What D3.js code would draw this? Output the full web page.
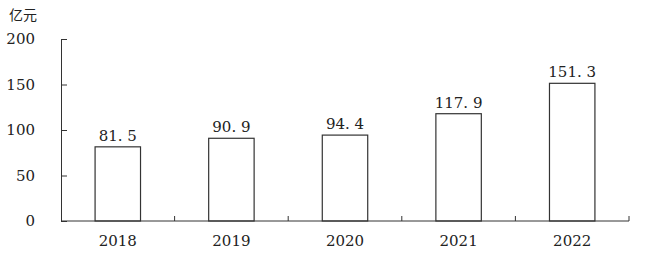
<!DOCTYPE html>
<html>
<head>
<meta charset="utf-8">
<script src="https://cdn.jsdelivr.net/npm/d3@7"></script>
<style>
  body { margin: 0; background: #fff; }
  svg text { fill: #222; }
</style>
</head>
<body>
<div id="chart"></div>
<script>
const years = ["2018", "2019", "2020", "2021", "2022"];
const values = [81.5, 90.9, 94.4, 117.9, 151.3];
const yTicks = [0, 50, 100, 150, 200];
const unit = "亿元";

const width = 661, height = 256;
const margin = {left: 61, right: 629, top: 39, bottom: 221};
const serif = "'DejaVu Serif', serif";

let svg = d3.select("#chart").append("svg")
  .attr("width", width)
  .attr("height", height);

// Scales
let x = d3.scaleBand()
  .domain(years)
  .range([margin.left, margin.right])
  .paddingInner(0.6)
  .paddingOuter(0.3);

let y = d3.scaleLinear()
  .domain([0, 200])
  .range([margin.bottom, margin.top]);

// Y axis, ticks point inward
let yAxis = svg.append("g")
  .attr("transform", "translate(" + margin.left + ",0)")
  .call(d3.axisLeft(y).tickValues(yTicks).tickSizeInner(-6).tickSizeOuter(0).tickPadding(26));
yAxis.select(".domain").attr("stroke", "#333");
yAxis.selectAll(".tick line").attr("stroke", "#333");
yAxis.selectAll("text")
  .style("font-family", serif)
  .style("font-size", "15px")
  .attr("fill", "#222");

// Unit label
svg.append("text")
  .attr("x", 9)
  .attr("y", 20)
  .style("font-family", "'Noto Sans CJK SC', sans-serif")
  .style("font-size", "14px")
  .text(unit);

// Bars
svg.selectAll("rect.bar")
  .data(values)
  .join("rect")
  .attr("class", "bar")
  .attr("x", (d, i) => x(years[i]))
  .attr("y", d => y(d))
  .attr("width", x.bandwidth())
  .attr("height", d => y(0) - y(d))
  .attr("fill", "#fff")
  .attr("stroke", "#333")
  .attr("stroke-width", 1.2);

// Value labels
svg.selectAll("text.val")
  .data(values)
  .join("text")
  .attr("class", "val")
  .attr("x", (d, i) => x(years[i]) + x.bandwidth() / 2)
  .attr("y", d => y(d) - 6)
  .attr("text-anchor", "middle")
  .style("font-family", serif)
  .style("font-size", "15px")
  .text(d => d3.format(".1f")(d).replace(".", ". "));

// X axis line with category boundary ticks
svg.append("line")
  .attr("x1", margin.left)
  .attr("x2", margin.right)
  .attr("y1", margin.bottom)
  .attr("y2", margin.bottom)
  .attr("stroke", "#333");

svg.selectAll("line.xtick")
  .data(years)
  .join("line")
  .attr("class", "xtick")
  .attr("x1", d => x(d) + x.bandwidth() + x.step() * 0.3)
  .attr("x2", d => x(d) + x.bandwidth() + x.step() * 0.3)
  .attr("y1", margin.bottom)
  .attr("y2", margin.bottom - 5)
  .attr("stroke", "#333");

// Category labels
svg.selectAll("text.cat")
  .data(years)
  .join("text")
  .attr("class", "cat")
  .attr("x", d => x(d) + x.bandwidth() / 2)
  .attr("y", 246)
  .attr("text-anchor", "middle")
  .style("font-family", serif)
  .style("font-size", "15px")
  .text(d => d);
</script>
</body>
</html>
